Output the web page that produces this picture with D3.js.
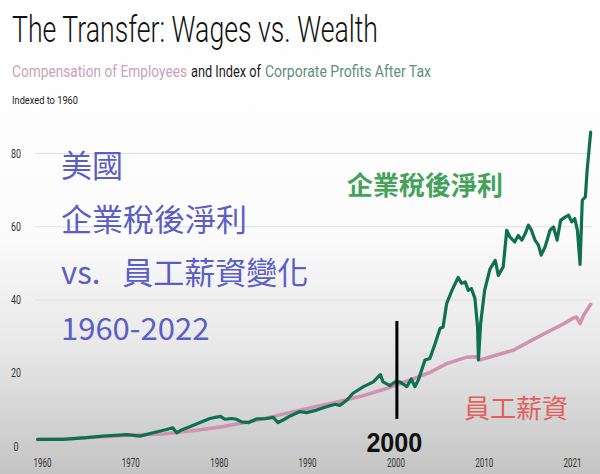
<!DOCTYPE html>
<html>
<head>
<meta charset="utf-8">
<script src="https://cdn.jsdelivr.net/npm/d3@7"></script>
<style>
  html, body { margin: 0; padding: 0; background: #fff; }
  svg { display: block; }
</style>
</head>
<body>
<div id="chart"></div>
<script>
// ---------- DATA ----------
const profitYears = [1959.5,1962.4,1964.7,1966.9,1969.6,1971.1,1972.6,1974.1,1974.8,1975.25,1975.8,1976.8,1977.9,1979.0,1980.2,1980.7,1981.5,1982.0,1982.6,1983.4,1984.3,1985.4,1986.2,1986.7,1987.3,1988.1,1989.2,1989.95,1991.1,1992.2,1993.2,1993.7,1994.5,1995.2,1996.4,1997.5,1998.3,1998.6,1999.4,1999.95,2000.5,2001.3,2001.8,2002.2,2002.6,2003.35,2003.9,2004.5,2005.05,2005.4,2005.8,2006.4,2007.1,2007.5,2007.9,2008.25,2008.6,2009.0,2009.3,2009.4,2009.65,2010.1,2010.7,2011.3,2011.65,2012.2,2012.6,2012.95,2013.5,2013.9,2014.3,2014.7,2015.05,2015.4,2015.8,2016.2,2016.5,2016.95,2017.5,2017.9,2018.3,2018.7,2019.2,2019.6,2019.95,2020.3,2020.6,2020.9,2021.15,2021.5,2021.7,2022.1];
const profitValues = [1.8,1.8,2.2,2.7,3.1,2.7,3.6,4.5,5.0,3.6,4.4,5.3,6.4,7.5,8.1,7.3,7.5,7.3,6.6,6.4,7.4,7.5,7.8,6.4,7.1,8.2,9.4,9.1,9.8,10.7,11.4,11.1,12.5,14.4,16.2,17.5,19.5,17.5,16.5,17.5,17.5,16.2,18.3,16.2,18.0,23.5,23.9,28.0,32.1,32.5,38.9,42.5,46.0,44.4,44.8,42.5,43.0,40.3,32.5,23.5,33.5,42.5,48.3,50.7,46.6,48.9,58.9,57.1,55.7,57.5,56.2,58.0,60.3,58.9,56.2,54.8,52.1,54.4,58.9,59.8,56.2,61.6,62.5,63.0,61.2,62.1,58.9,49.6,67.1,68.0,75.3,85.7];

const wageYears = [1959.5,1963,1966,1970,1973.8,1977.5,1980.2,1983.5,1986.6,1989.2,1993.0,1996.0,1999.0,2002.0,2004.0,2005.8,2008.0,2009.2,2009.6,2011.0,2013.4,2015.0,2017.1,2019.0,2020.1,2020.5,2020.9,2021.3,2022.1];
const wageValues = [1.8,2.0,2.4,3.0,3.3,4.3,5.2,6.6,8.3,9.8,11.8,13.5,15.7,18.3,20.2,22.5,24.2,24.4,23.5,24.5,26.2,28.3,31.0,33.3,34.9,35.2,33.4,35.7,38.7];

const yTicks = [0, 20, 40, 60, 80];
const gridTicks = [20, 40, 60, 80];
const xTicks = [1960, 1970, 1980, 1990, 2000, 2010, 2021];

const titleText = "The Transfer: Wages vs. Wealth";
const subtitleParts = ["Compensation of Employees", "and Index of", "Corporate Profits After Tax"];
const noteText = "Indexed to 1960";
const overlayLines = [["美國"], ["企業稅後淨利"], ["vs.", "員工薪資變化"], ["1960-2022"]];
const profitLabel = "企業稅後淨利";
const wageLabel = "員工薪資";
const markerYear = 2000;
const markerLabel = "2000";

// ---------- SETUP ----------
const W = 600, H = 474;
const svg = d3.select("#chart").append("svg").attr("width", W).attr("height", H);

const defs = svg.append("defs");
const grad = defs.append("linearGradient").attr("id", "bg").attr("x1", 0).attr("y1", 0).attr("x2", 0).attr("y2", 1);
grad.append("stop").attr("offset", "0%").attr("stop-color", "#ffffff");
grad.append("stop").attr("offset", "48%").attr("stop-color", "#fcfcfc");
grad.append("stop").attr("offset", "72%").attr("stop-color", "#e9e9e9");
grad.append("stop").attr("offset", "100%").attr("stop-color", "#c4c4c4");
svg.append("rect").attr("width", W).attr("height", H).attr("fill", "url(#bg)");

const x = d3.scaleLinear().domain([1959.5, 2022.25]).range([37.5, 592]);
const y = d3.scaleLinear().domain([0, 80]).range([446, 153]);

// Titles
svg.append("text").attr("x", 12).attr("y", 42)
  .attr("font-family", "Roboto").attr("font-weight", 300).attr("font-size", 36)
  .attr("fill", "#111").attr("textLength", 366).attr("lengthAdjust", "spacingAndGlyphs")
  .text(titleText);

const subX = [12, 191, 265];
const subLen = [175, 70, 166];
const subColors = ["#c9a3b8", "#1a1a1a", "#5f917d"];
subtitleParts.forEach((t, i) => {
  svg.append("text").attr("transform", `translate(${subX[i]},77) scale(1,1.2)`)
    .attr("font-family", "Roboto").attr("font-size", 13.5).attr("fill", subColors[i])
    .attr("textLength", subLen[i]).attr("lengthAdjust", "spacingAndGlyphs")
    .text(t);
});

svg.append("text").attr("x", 12).attr("y", 104)
  .attr("font-family", "Roboto").attr("font-size", 11).attr("fill", "#222")
  .attr("textLength", 66).attr("lengthAdjust", "spacingAndGlyphs")
  .text(noteText);

// Gridlines
const grid = svg.append("g").attr("transform", "translate(35,0)")
  .call(d3.axisLeft(y).tickValues(gridTicks).tickSize(-(592 - 35)).tickFormat(""));
grid.select(".domain").remove();
grid.selectAll(".tick line").attr("stroke", "#dedede").attr("stroke-width", 1);

// Y axis labels
const yAx = svg.append("g").attr("transform", "translate(16,0)")
  .call(d3.axisLeft(y).tickValues(yTicks).tickSize(0).tickPadding(0));
yAx.select(".domain").remove();
yAx.selectAll(".tick text")
  .attr("text-anchor", "middle").attr("x", 0).attr("dy", "0.35em")
  .attr("font-family", "Roboto").attr("font-size", 12).attr("fill", "#333")
  .attr("textLength", d => d === 0 ? 5 : 10).attr("lengthAdjust", "spacingAndGlyphs");

// X axis labels
const xAx = svg.append("g").attr("transform", "translate(0,467)")
  .call(d3.axisBottom(x).tickValues(xTicks).tickSize(0).tickFormat(d3.format("d")));
xAx.select(".domain").remove();
xAx.selectAll(".tick text")
  .attr("y", 0).attr("dy", 0)
  .attr("text-anchor", (d, i) => i === xTicks.length - 1 ? "end" : "middle")
  .attr("font-family", "Roboto").attr("font-size", 13).attr("fill", "#333")
  .attr("textLength", 18).attr("lengthAdjust", "spacingAndGlyphs");

// Lines
const line = d3.line().x(d => x(d[0])).y(d => y(d[1])).curve(d3.curveLinear);
const wageData = wageYears.map((yr, i) => [yr, wageValues[i]]);
const profitData = profitYears.map((yr, i) => [yr, profitValues[i]]);

svg.append("path").datum(wageData).attr("d", line)
  .attr("fill", "none").attr("stroke", "#cf93ae").attr("stroke-width", 3.5)
  .attr("stroke-linejoin", "round").attr("stroke-linecap", "round");
svg.append("path").datum(profitData).attr("d", line)
  .attr("fill", "none").attr("stroke", "#0e7050").attr("stroke-width", 3.2)
  .attr("stroke-linejoin", "round").attr("stroke-linecap", "round");

// Overlay annotation text (blue)
const cjk = "'Noto Sans CJK TC', 'Noto Sans CJK SC', 'Noto Sans', sans-serif";
const overlayY = [177, 231, 284, 340];
overlayLines.forEach((parts, i) => {
  const t = svg.append("text").attr("x", 61).attr("y", overlayY[i])
    .attr("font-family", cjk).attr("font-size", 31).attr("fill", "#5a5ec6");
  parts.forEach((p, j) => t.append("tspan").attr("dx", j > 0 ? 22 : 0).text(p));
});

svg.append("text").attr("x", 347).attr("y", 195)
  .attr("font-family", cjk).attr("font-size", 26).attr("font-weight", 700).attr("fill", "#44a25b")
  .text(profitLabel);

svg.append("text").attr("x", 464).attr("y", 418)
  .attr("font-family", cjk).attr("font-size", 26).attr("fill", "#e0605c")
  .text(wageLabel);

// 2000 marker
svg.append("line").attr("x1", x(markerYear) + 1.5).attr("x2", x(markerYear) + 1.5)
  .attr("y1", 321).attr("y2", 419).attr("stroke", "#000").attr("stroke-width", 3);
svg.append("text").attr("x", x(markerYear) - 1).attr("y", 452)
  .attr("text-anchor", "middle")
  .attr("font-family", "'Liberation Sans', Arial, sans-serif").attr("font-weight", 700).attr("font-size", 28)
  .attr("fill", "#111").attr("textLength", 56).attr("lengthAdjust", "spacingAndGlyphs")
  .text(markerLabel);
</script>
</body>
</html>
